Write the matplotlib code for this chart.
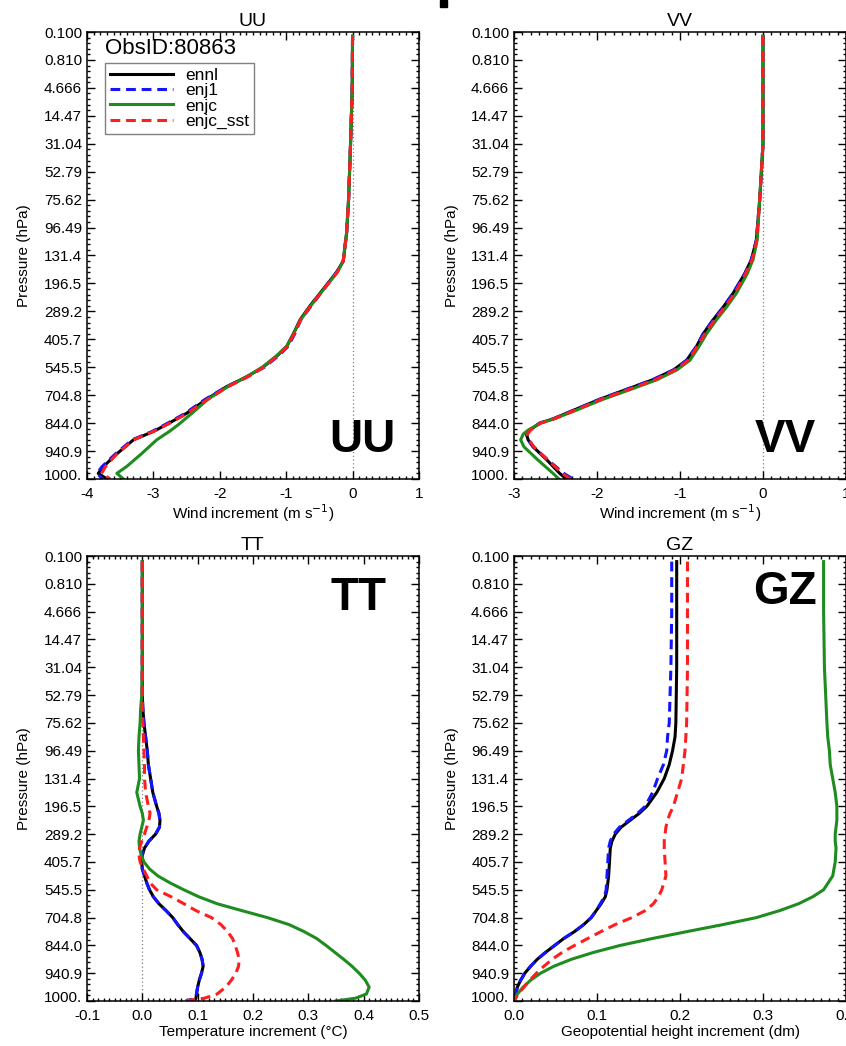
import matplotlib
matplotlib.use('Agg')
import matplotlib.pyplot as plt
from matplotlib.ticker import AutoMinorLocator, FormatStrFormatter
from matplotlib.patches import Rectangle
from matplotlib.transforms import ScaledTranslation

plt.rcParams['font.family'] = ['Liberation Sans', 'DejaVu Sans']
plt.rcParams['axes.unicode_minus'] = False

# pressure labels on the model-level axis, top to bottom
p_labels = ['0.100', '0.810', '4.666', '14.47', '31.04', '52.79', '75.62', '96.49',
            '131.4', '196.5', '289.2', '405.7', '545.5', '704.8', '844.0', '940.9', '1000.']

series = ['ennl', 'enj1', 'enjc', 'enjc_sst']

# ---- UU ----
lev_uu = [15.85, 14, 12, 10, 8.8, 7.8, 7.4, 6.65, 6.2, 5.7, 5.2, 4.75, 4.4, 4.0,
          3.65, 3.3, 2.85, 2.35, 1.95, 1.7, 1.4, 0.9, 0.45, 0.2, 0]
uu_ennl = [0.0, -0.005, -0.03, -0.06, -0.09, -0.14, -0.24, -0.49, -0.64, -0.79, -0.89, -0.99,
           -1.14, -1.35, -1.60, -1.90, -2.20, -2.50, -2.80, -3.00, -3.30, -3.55, -3.75, -3.83, -3.70]
uu_enj1 = [0.0, -0.005, -0.03, -0.06, -0.09, -0.14, -0.24, -0.48, -0.62, -0.78, -0.87, -0.97,
           -1.12, -1.33, -1.60, -1.90, -2.22, -2.52, -2.82, -3.02, -3.32, -3.57, -3.77, -3.85, -3.76]
uu_enjc = [0.0, -0.005, -0.03, -0.06, -0.09, -0.14, -0.23, -0.48, -0.63, -0.78, -0.89, -0.99,
           -1.15, -1.36, -1.60, -1.88, -2.18, -2.42, -2.62, -2.76, -2.95, -3.18, -3.40, -3.55, -3.45]
uu_enjc_sst = [0.0, -0.005, -0.03, -0.06, -0.09, -0.14, -0.23, -0.48, -0.63, -0.78, -0.88, -0.98,
               -1.13, -1.34, -1.58, -1.88, -2.18, -2.49, -2.79, -3.00, -3.30, -3.55, -3.72, -3.78, -3.65]

# ---- VV ----
lev_vv = [15.85, 12.0, 10.0, 8.55, 7.85, 7.35, 6.65, 6.15, 5.7, 5.2, 4.75, 4.25, 3.9, 3.55,
          3.2, 2.85, 2.45, 2.15, 2.0, 1.75, 1.6, 1.4, 1.15, 0.7, 0.2, 0]
vv_ennl = [0.0, 0.0, -0.04, -0.08, -0.14, -0.22, -0.36, -0.48, -0.60, -0.72, -0.80, -0.92, -1.08,
           -1.33, -1.65, -1.97, -2.29, -2.53, -2.69, -2.81, -2.85, -2.83, -2.77, -2.61, -2.45, -2.37]
vv_enj1 = [0.0, 0.0, -0.04, -0.08, -0.14, -0.22, -0.36, -0.48, -0.60, -0.72, -0.80, -0.92, -1.08,
           -1.33, -1.65, -1.97, -2.29, -2.53, -2.69, -2.81, -2.85, -2.83, -2.77, -2.60, -2.40, -2.29]
vv_enjc = [0.0, 0.0, -0.04, -0.07, -0.12, -0.19, -0.32, -0.44, -0.56, -0.68, -0.77, -0.88, -1.04,
           -1.28, -1.60, -1.93, -2.26, -2.52, -2.68, -2.83, -2.89, -2.92, -2.88, -2.72, -2.53, -2.46]
vv_enjc_sst = [0.0, 0.0, -0.04, -0.075, -0.13, -0.21, -0.34, -0.46, -0.58, -0.70, -0.79, -0.90, -1.06,
               -1.30, -1.62, -1.95, -2.27, -2.52, -2.68, -2.80, -2.84, -2.82, -2.76, -2.60, -2.42, -2.32]

# ---- TT ----
lev_tt = [15.8, 14, 12, 11, 10.5, 10, 9.5, 9, 8.5, 8, 7.5, 7, 6.75, 6.5, 6.25, 6, 5.75, 5.5, 5.25,
          5, 4.75, 4.5, 4.25, 4, 3.75, 3.5, 3.25, 3, 2.75, 2.5, 2.25, 2, 1.75, 1.5, 1.25, 1,
          0.75, 0.5, 0.25, 0.1, 0]
tt_ennl = [0, 0, 0, 0, 0.001, 0.003, 0.006, 0.009, 0.011, 0.015, 0.019, 0.026, 0.030, 0.032, 0.031,
           0.024, 0.012, 0.004, 0.0, -0.001, 0.0, 0.004, 0.008, 0.013, 0.020, 0.030, 0.043, 0.055,
           0.064, 0.074, 0.086, 0.098, 0.104, 0.108, 0.110, 0.107, 0.103, 0.100, 0.098, 0.097, 0.093]
tt_enj1 = [0, 0, 0, 0, 0.001, 0.003, 0.006, 0.009, 0.011, 0.015, 0.019, 0.026, 0.030, 0.032, 0.031,
           0.024, 0.012, 0.004, 0.0, -0.001, 0.0, 0.004, 0.008, 0.013, 0.020, 0.030, 0.043, 0.055,
           0.064, 0.074, 0.086, 0.098, 0.104, 0.108, 0.110, 0.107, 0.103, 0.100, 0.098, 0.094, 0.080]
tt_enjc = [0, 0, 0, -0.001, -0.003, -0.004, -0.006, -0.007, -0.006, -0.005, -0.010, -0.004, 0.0,
           0.002, -0.001, -0.004, -0.006, -0.005, -0.002, 0.003, 0.013, 0.028, 0.050, 0.075, 0.102,
           0.135, 0.180, 0.226, 0.265, 0.292, 0.315, 0.332, 0.348, 0.364, 0.379, 0.392, 0.403,
           0.410, 0.405, 0.385, 0.349]
tt_enjc_sst = [0, 0, 0, 0, 0.0, 0.001, 0.002, 0.003, 0.004, 0.004, 0.006, 0.011, 0.014, 0.012, 0.008,
               0.004, -0.001, -0.005, -0.006, -0.004, 0.002, 0.008, 0.014, 0.026, 0.052, 0.075,
               0.097, 0.125, 0.142, 0.154, 0.163, 0.168, 0.172, 0.175, 0.174, 0.169, 0.161, 0.151,
               0.135, 0.112, 0.075]

# ---- GZ ----
lev_gz = [15.8, 14, 12, 10, 9.5, 9, 8.5, 8, 7.5, 7, 6.75, 6.5, 6.25, 6, 5.75, 5.5, 5, 4.5, 4,
          3.75, 3.5, 3.25, 3, 2.75, 2.5, 2.25, 2, 1.75, 1.5, 1.25, 1, 0.75, 0.5, 0.25, 0]
gz_ennl = [0.196, 0.196, 0.196, 0.195, 0.194, 0.191, 0.187, 0.181, 0.172, 0.160, 0.151, 0.140,
           0.129, 0.122, 0.118, 0.116, 0.115, 0.114, 0.112, 0.110, 0.105, 0.099, 0.093, 0.084,
           0.073, 0.060, 0.049, 0.038, 0.028, 0.020, 0.013, 0.008, 0.004, 0.002, 0.0]
gz_enj1 = [0.190, 0.190, 0.189, 0.187, 0.185, 0.184, 0.180, 0.173, 0.167, 0.158, 0.149, 0.138,
           0.127, 0.120, 0.116, 0.114, 0.113, 0.112, 0.111, 0.109, 0.104, 0.099, 0.093, 0.084,
           0.073, 0.060, 0.049, 0.038, 0.028, 0.020, 0.013, 0.008, 0.004, 0.002, 0.0]
gz_enjc = [0.373, 0.373, 0.374, 0.377, 0.378, 0.380, 0.381, 0.384, 0.387, 0.389, 0.389, 0.389,
           0.388, 0.387, 0.387, 0.388, 0.387, 0.384, 0.373, 0.360, 0.343, 0.320, 0.292, 0.252,
           0.209, 0.167, 0.128, 0.096, 0.069, 0.048, 0.032, 0.020, 0.011, 0.004, 0.0]
gz_enjc_sst = [0.209, 0.209, 0.209, 0.208, 0.207, 0.206, 0.204, 0.202, 0.197, 0.192, 0.188, 0.185,
               0.183, 0.182, 0.181, 0.181, 0.182, 0.183, 0.178, 0.174, 0.168, 0.158, 0.142, 0.122,
               0.105, 0.089, 0.073, 0.058, 0.046, 0.036, 0.027, 0.019, 0.012, 0.005, 0.0]

colors = {'ennl': 'black', 'enj1': '#1414ff', 'enjc': '#1e8c1e', 'enjc_sst': '#ff1e1e'}
dashed = {'ennl': False, 'enj1': True, 'enjc': False, 'enjc_sst': True}


def draw_panel(ax, lev, data, xlim, xstep, xfmt, title, xlabel, tag, tag_xy):
    ax.axvline(0, color='gray', lw=0.9, ls=(0, (1, 2)), zorder=1)
    for name, vals in zip(series, data):
        if dashed[name]:
            ax.plot(vals, lev, color=colors[name], lw=2.2, dashes=(3.2, 1.9), label=name, zorder=2)
        else:
            ax.plot(vals, lev, color=colors[name], lw=2.2, label=name, zorder=2)
    ax.set_xlim(*xlim)
    ax.set_ylim(0, 16)
    ticks = [xlim[0] + i * xstep for i in range(round((xlim[1] - xlim[0]) / xstep) + 1)]
    ax.set_xticks(ticks)
    ax.xaxis.set_major_formatter(FormatStrFormatter(xfmt))
    ax.set_yticks(range(17))
    ax.set_yticklabels(p_labels[::-1])
    ax.xaxis.set_minor_locator(AutoMinorLocator(10))
    ax.yaxis.set_minor_locator(AutoMinorLocator(5))
    ax.tick_params(which='both', direction='in', top=True, right=True, labelsize=11, width=1)
    ax.tick_params(which='major', length=5.5)
    ax.tick_params(which='minor', length=2.5)
    ax.tick_params(axis='x', pad=6)
    ax.tick_params(axis='y', pad=3.5)
    for s in ax.spines.values():
        s.set_linewidth(1.1)
    ax.set_title(title, fontsize=14, pad=4.5)
    ax.set_xlabel(xlabel, fontsize=11, labelpad=1)
    ax.set_ylabel('Pressure (hPa)', fontsize=11, labelpad=9)
    ax.text(tag_xy[0], tag_xy[1], tag, transform=ax.transAxes, fontsize=33,
            fontweight='bold', ha='center', va='center')
    # lift the bottom pressure label off the x axis
    bottom = ax.get_yticklabels()[0]
    bottom.set_transform(bottom.get_transform() + ScaledTranslation(0, 3.5 / 72, fig.dpi_scale_trans))


fig = plt.figure(figsize=(8.46, 10.46), dpi=100)

ax_uu = fig.add_axes([0.1028, 0.5421, 0.3924, 0.4273])
ax_vv = fig.add_axes([0.6076, 0.5421, 0.3924, 0.4273])
ax_tt = fig.add_axes([0.1028, 0.0430, 0.3924, 0.4254])
ax_gz = fig.add_axes([0.6076, 0.0430, 0.3924, 0.4254])

draw_panel(ax_uu, lev_uu, [uu_ennl, uu_enj1, uu_enjc, uu_enjc_sst], (-4, 1), 1, '%d',
           'UU', 'Wind increment (m s$^{-1}$)', 'UU', (0.83, 0.087))
draw_panel(ax_vv, lev_vv, [vv_ennl, vv_enj1, vv_enjc, vv_enjc_sst], (-3, 1), 1, '%d',
           'VV', 'Wind increment (m s$^{-1}$)', 'VV', (0.816, 0.087))
draw_panel(ax_tt, lev_tt, [tt_ennl, tt_enj1, tt_enjc, tt_enjc_sst], (-0.1, 0.5), 0.1, '%.1f',
           'TT', 'Temperature increment (°C)', 'TT', (0.817, 0.906))
draw_panel(ax_gz, lev_gz, [gz_ennl, gz_enj1, gz_enjc, gz_enjc_sst], (0.0, 0.4), 0.1, '%.1f',
           'GZ', 'Geopotential height increment (dm)', 'GZ', (0.816, 0.919))

ax_uu.text(0.054, 0.964, 'ObsID:80863', transform=ax_uu.transAxes, fontsize=16,
           ha='left', va='center')
leg = ax_uu.legend(loc='upper left', bbox_to_anchor=(0.054, 0.931), borderaxespad=0,
                   fontsize=12.5, handlelength=3.6, handletextpad=0.7, labelspacing=0.0,
                   borderpad=0.3, fancybox=False, framealpha=1, edgecolor='gray')
leg.get_frame().set_linewidth(1.0)

# leftover mark at the top edge between the panels
fig.patches.append(Rectangle((440 / 846, 1 - 7 / 1046), 7 / 846, 7 / 1046,
                             transform=fig.transFigure, color='black', zorder=5))

fig.savefig('out.png', dpi=100)
